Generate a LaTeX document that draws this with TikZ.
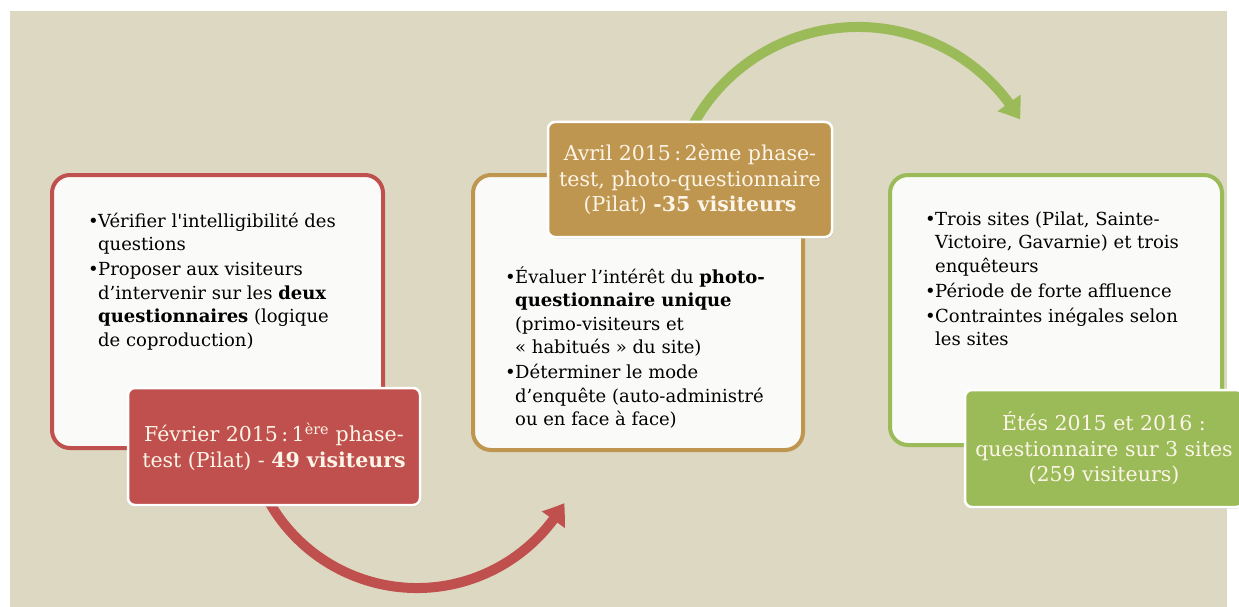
\documentclass[tikz,border=0pt]{standalone}
\usepackage{fontspec}
\setmainfont{DejaVu Serif}
\usetikzlibrary{arrows.meta,bending,shadows}
\definecolor{bg}{HTML}{DDD8C2}
\definecolor{cred}{HTML}{C0504D}
\definecolor{cgold}{HTML}{BF9650}
\definecolor{cgreen}{HTML}{9BBB59}
\definecolor{boxfill}{HTML}{FAFAF8}
\definecolor{labtext}{HTML}{FCF5E8}
\newcommand{\itm}{\par\hangindent=10pt\hangafter=1\noindent\makebox[10pt][l]{\textbullet}}
\newcommand{\bodytext}[1]{\begin{minipage}[t]{330pt}\fontsize{18}{23.5}\selectfont\raggedright\parskip=1.5pt #1\end{minipage}}
\begin{document}
\begin{tikzpicture}[x=1pt,y=-1pt,
  bigbox/.style={draw=#1, line width=4pt, fill=boxfill, rounded corners=18pt, inner sep=0pt},
  labelbox/.style={fill=#1, draw=white, line width=2.5pt, rounded corners=7pt, text=labtext, align=center, inner sep=0pt,
    font=\fontsize{20.5}{25.5}\selectfont, drop shadow={opacity=0.3,shadow xshift=1pt,shadow yshift=-1.5pt}},
  flowarrow/.style={draw=#1, line width=10pt, -{Triangle[width=27pt,length=20pt,bend]}},
  bodynode/.style={anchor=base west, inner sep=0pt, text=black}]
\useasboundingbox[fill=white] (0,0) rectangle (1239,607);
\fill[bg] (10,11) rectangle (1227,607);
% big boxes
\node[bigbox=cred, minimum width=331pt, minimum height=273pt] (redbox) at (217.5,311.5) {};
\node[bigbox=cgold, minimum width=330pt, minimum height=275pt] (goldbox) at (638,312.5) {};
\node[bigbox=cgreen, minimum width=332pt, minimum height=270pt] (greenbox) at (1056,310) {};
% arcs
\coordinate (redc) at (417,418);
\coordinate (greenc) at (858,215);
\draw[flowarrow=cred] (redc) ++(155:170) coordinate (redstart) arc[start angle=155,end angle=30,radius=170];
\draw[flowarrow=cgreen] (greenc) ++(205:188) coordinate (greenstart) arc[start angle=205,end angle=329.5,radius=188];
% labels
\node[labelbox=cred, minimum width=292pt, minimum height=117pt] (redlab) at (274,446.5)
  {Février 2015\,:\,1\textsuperscript{ère} phase-\\test (Pilat) - \textbf{49 visiteurs}};
\node[labelbox=cgold, minimum width=284pt, minimum height=115pt] (goldlab) at (690,179.5)
  {Avril 2015\,:\,2ème phase-\\test, photo-questionnaire\\(Pilat) \textbf{-35 visiteurs}};
\node[labelbox=cgreen, minimum width=278pt, minimum height=117pt] (greenlab) at (1104,448.5)
  {Étés 2015 et 2016 :\\questionnaire sur 3 sites\\(259 visiteurs)};
% body texts
\node[bodynode] (redtext) at (88,227) {\bodytext{%
\itm Vérifier l\textquotesingle intelligibilité des\break questions
\itm Proposer aux visiteurs\break d’intervenir sur les \textbf{deux}\break \textbf{questionnaires} (logique\break de coproduction)}};
\node[bodynode] (goldtext) at (505,283) {\bodytext{%
\itm Évaluer l’intérêt du \textbf{photo-}\break \textbf{questionnaire unique}\break (primo-visiteurs et\break «~habitués~» du site)
\itm Déterminer le mode\break d’enquête (auto-administré\break ou en face à face)}};
\node[bodynode] (greentext) at (925,225) {\bodytext{%
\itm Trois sites (Pilat, Sainte-\break Victoire, Gavarnie) et trois\break enquêteurs
\itm Période de forte affluence
\itm Contraintes inégales selon\break les sites}};
\end{tikzpicture}
\end{document}
